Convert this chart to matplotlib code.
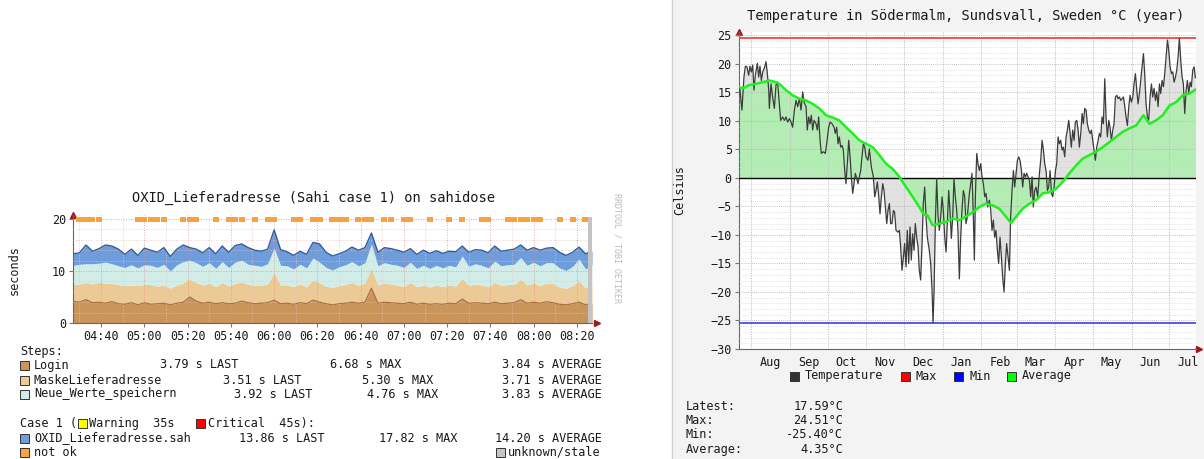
import numpy as np
import matplotlib
matplotlib.use("Agg")
import matplotlib.pyplot as plt
from matplotlib.patches import Rectangle
from matplotlib.lines import Line2D

W, H = 1204, 459
plt.rcParams['font.family'] = ['DejaVu Sans Mono', 'DejaVu Sans']

# ------------------------------------------------------------------ left chart data
# sample times: minutes after 04:00, one sample every 3 minutes (04:27 .. 08:27)
time_min = list(range(27, 268, 3))
login = [4.2, 4.0, 4.5, 3.9, 4.0, 3.8, 4.1, 3.7, 3.6, 3.9,
         3.5, 3.9, 3.6, 3.7, 3.8, 3.5, 3.8, 4.0, 5.0, 4.2,
         3.8, 4.0, 3.7, 3.9, 3.7, 3.8, 4.2, 3.9, 3.7, 3.8,
         3.9, 4.4, 3.7, 3.8, 3.6, 3.9, 3.7, 4.4, 4.0, 3.7,
         3.5, 3.7, 3.8, 4.0, 3.8, 4.0, 6.7, 3.8, 4.0, 3.9,
         3.8, 3.7, 4.0, 3.6, 3.8, 3.6, 3.7, 3.6, 3.8, 3.7,
         4.6, 3.8, 3.9, 3.8, 3.7, 4.0, 3.7, 3.8, 3.9, 4.5,
         3.8, 4.0, 3.8, 4.1, 3.9, 3.6, 3.5, 3.7, 4.0, 3.5, 3.79]
maske = [3.2, 3.5, 3.3, 3.6, 3.8, 3.9, 3.5, 3.7, 3.6, 3.4,
         3.7, 3.5, 3.8, 3.4, 3.5, 3.2, 3.5, 3.7, 3.4, 3.6,
         3.5, 3.7, 3.3, 3.9, 3.4, 3.8, 3.7, 3.5, 3.6, 3.4,
         3.6, 5.3, 3.6, 3.5, 3.4, 3.6, 3.3, 3.9, 3.7, 3.4,
         3.3, 3.5, 3.6, 3.8, 3.4, 3.7, 3.9, 3.5, 3.7, 3.6,
         3.5, 3.3, 3.8, 3.4, 3.5, 3.3, 3.6, 3.4, 3.5, 3.4,
         4.0, 3.4, 3.6, 3.5, 3.3, 3.8, 3.5, 3.6, 3.5, 3.9,
         3.5, 3.7, 3.4, 3.6, 3.7, 3.3, 3.2, 3.5, 4.1, 3.3, 3.51]
neue = [3.7, 3.8, 3.6, 3.9, 3.7, 4.0, 3.8, 3.6, 3.5, 3.9,
        3.4, 3.8, 3.7, 3.6, 4.0, 3.3, 3.9, 4.1, 3.7, 3.8,
        3.6, 3.9, 3.5, 4.0, 3.6, 4.1, 4.2, 3.9, 3.8, 3.7,
        3.9, 4.7, 3.8, 3.7, 3.4, 3.8, 3.6, 4.2, 4.0, 3.6,
        3.4, 3.6, 3.8, 4.0, 3.8, 3.9, 4.6, 3.7, 3.9, 3.8,
        3.8, 3.7, 3.9, 3.5, 3.8, 3.6, 3.8, 3.6, 3.8, 3.7,
        4.3, 3.7, 3.9, 3.8, 3.6, 4.1, 3.8, 3.8, 3.9, 4.2,
        3.8, 4.0, 3.8, 3.9, 4.0, 3.7, 3.4, 3.7, 4.2, 3.6, 3.92]
sah_total = [13.3, 13.5, 15.0, 13.8, 14.3, 15.0, 14.8, 14.2, 13.2, 14.2,
             13.0, 14.4, 14.0, 13.6, 14.5, 12.8, 14.2, 15.0, 14.5, 14.2,
             13.5, 14.5, 13.3, 14.8, 13.6, 14.9, 15.2, 14.5, 14.0, 13.8,
             14.2, 17.9, 14.1, 13.7, 13.0, 13.8, 13.2, 15.5, 15.2, 13.6,
             12.9, 13.3, 13.8, 14.6, 14.0, 14.5, 17.3, 13.6, 14.5, 14.3,
             14.0, 13.6, 14.3, 13.2, 14.0, 13.4, 13.9, 13.4, 13.8, 13.7,
             14.8, 13.6, 14.1, 14.0, 13.5, 14.8, 13.8, 14.0, 14.2, 15.0,
             14.0, 14.5, 14.0, 14.4, 14.5, 13.6, 13.0, 13.6, 14.6, 13.3, 13.86]
not_ok = [0, 1, 1, 1, 1, 0, 0, 0, 0, 0,
          1, 1, 1, 1, 1, 0, 0, 1, 1, 1,
          0, 0, 1, 0, 1, 1, 1, 0, 1, 0,
          1, 1, 0, 0, 1, 1, 0, 1, 1, 0,
          1, 1, 1, 0, 1, 1, 1, 0, 1, 1,
          0, 1, 1, 0, 0, 1, 0, 0, 1, 0,
          1, 0, 0, 1, 1, 0, 0, 1, 1, 1,
          1, 1, 1, 0, 0, 1, 0, 1, 0, 1, 0]
stale_idx = [80]
xtick_min = [40, 60, 80, 100, 120, 140, 160, 180, 200, 220, 240, 260]
xtick_labels = ["04:40", "05:00", "05:20", "05:40", "06:00", "06:20",
                "06:40", "07:00", "07:20", "07:40", "08:00", "08:20"]
step_names = ["Login", "MaskeLieferadresse", "Neue_Werte_speichern"]
step_last = [3.79, 3.51, 3.92]
step_max = [6.68, 5.30, 4.76]
step_avg = [3.84, 3.71, 3.83]
sah_name = "OXID_Lieferadresse.sah"
sah_last, sah_max, sah_avg = 13.86, 17.82, 14.20
warning_s, critical_s = 35, 45

# ------------------------------------------------------------------ right chart data
# days since 22 July
temp_day = [
    0.0, 1.0, 2.6, 4.2, 5.3, 6.6, 8.0, 9.0, 10.1, 11.2,
    12.2, 13.3, 14.9, 16.0, 17.0, 18.1, 19.2, 20.7, 21.8, 22.9,
    24.0, 24.5, 25.8, 27.1, 28.5, 29.8, 31.1, 32.5, 33.5, 35.1,
    36.5, 37.8, 39.1, 40.5, 41.8, 43.1, 44.5, 45.8, 47.1, 48.5,
    49.8, 51.1, 52.2, 53.8, 54.8, 55.9, 57.0, 58.0, 59.1, 60.2,
    61.8, 62.8, 63.9, 65.0, 66.0, 67.6, 69.2, 70.3, 71.9, 73.0,
    74.6, 76.2, 77.2, 78.3, 79.4, 80.4, 81.5, 82.6, 83.6, 84.7,
    85.7, 86.8, 87.9, 89.0, 90.0, 91.1, 92.1, 93.2, 94.3, 95.3,
    96.4, 97.5, 98.5, 99.6, 100.7, 101.7, 103.3, 104.4, 106.0, 107.6,
    108.7, 109.7, 110.8, 111.9, 112.9, 114.0, 115.1, 116.1, 117.2, 118.3,
    119.3, 120.4, 121.4,
    122.5, 123.6, 124.6, 125.7, 127.3, 128.4, 129.4, 130.5, 131.6, 132.6,
    133.7, 134.7, 135.8, 136.9, 137.9, 139.0, 140.1, 141.1, 142.2, 143.3,
    144.3, 145.4, 146.5, 147.5, 148.6, 149.7, 150.7, 152.3, 153.4, 154.5,
    155.3, 156.1, 157.1, 158.2, 159.3, 160.3, 161.4, 162.5, 163.5, 164.6,
    165.7, 166.7, 167.8, 168.8, 169.9, 171.0, 172.0, 173.1, 174.2, 175.2,
    176.3, 177.4, 178.4, 179.5, 180.6, 181.6, 182.7, 184.3, 185.4, 186.4,
    187.5, 188.3, 189.1, 190.2, 191.2, 192.3, 193.4, 194.4, 195.5, 196.6,
    197.6, 198.9, 200.3, 201.4, 202.4, 203.5, 204.5, 205.6, 206.7, 207.7,
    208.8, 209.9, 210.9, 212.0, 213.1, 214.1, 215.2, 216.3, 217.3, 218.4,
    219.5, 220.5, 221.6, 222.7, 223.7, 224.8, 225.9, 226.9, 228.0, 229.1,
    230.1, 231.2, 232.3, 233.3, 234.4, 235.4, 236.5, 237.6,
    238.9, 240.3, 241.3, 242.4, 243.5, 244.5, 245.6, 246.7, 247.7, 248.8,
    249.9, 250.9, 252.0, 253.1, 254.1, 255.2, 256.2, 257.3, 258.4, 259.4,
    260.5, 261.6, 262.6, 263.7, 264.8, 265.8, 266.9, 268.0, 269.0, 270.1,
    271.2, 272.2, 273.3, 274.4, 275.4, 276.5, 277.6, 278.6, 279.7, 280.8,
    281.8, 282.9, 283.9, 285.0, 286.1, 287.2, 288.2, 289.3, 290.3, 291.4,
    292.5, 293.5, 294.6, 295.7, 296.7, 297.8, 298.9, 299.9, 301.0, 302.1,
    303.1, 304.2, 305.3, 306.3, 307.4, 308.5, 309.5, 310.6, 311.7, 312.7,
    313.8, 314.9, 315.9, 317.0, 318.1, 319.1, 320.2, 321.2, 322.3, 323.4,
    324.4, 325.5, 326.6, 327.6, 328.7, 329.8, 330.8, 331.9, 333.0, 334.0,
    335.1, 336.2, 337.2, 338.3, 339.4, 340.4, 341.5, 342.6, 343.6, 344.7,
    345.8, 346.8, 347.9, 349.0, 350.0, 351.1, 352.1, 353.2, 354.3, 355.3,
    356.4, 357.5, 358.5, 359.6, 360.7, 361.7, 362.8, 363.9, 364.9]
temp_val = [
    16.0, 15.4, 11.9, 17.7, 19.6, 19.5, 18.0, 19.6, 18.6, 19.8,
    15.4, 18.0, 20.1, 17.7, 19.6, 17.1, 18.6, 19.4, 20.4, 18.3,
    15.4, 12.2, 16.5, 14.2, 12.2, 16.3, 16.8, 13.0, 10.1, 10.7,
    10.1, 10.7, 9.8, 10.4, 9.8, 8.9, 11.9, 13.6, 12.5, 13.9,
    11.9, 15.1, 13.3, 12.5, 8.4, 10.7, 9.5, 11.0, 8.4, 10.1,
    9.5, 8.4, 10.7, 6.6, 4.3, 4.6, 4.3, 6.0, 8.9, 9.8,
    9.5, 8.9, 7.8, 8.9, 6.0, 7.2, 5.4, 5.7, 4.9, 1.3,
    -1.0, 2.5, 6.6, 3.7, 0.2, -2.7, -1.0, 0.8, -0.1, -1.0,
    0.2, 1.3, 3.7, 6.0, 5.4, 3.7, 3.1, 5.1, 1.9, 0.2,
    -3.3, -2.2, -0.7, -3.3, -6.3, -3.3, -1.0, -2.2, -5.1, -8.0,
    -5.7, -4.5, -8.0,
    -8.0, -5.7, -6.0, -9.2, -9.5, -9.2, -12.1, -16.2, -13.9, -11.5,
    -15.6, -9.2, -15.0, -8.6, -14.4, -9.8, -12.7, -8.0, -10.4, -12.1,
    -16.2, -17.9, -11.5, -4.5, -1.6, -6.8, -10.4, -12.7, -15.0, -19.7,
    -25.4, -19.7, -8.0, -0.1, -6.8, -9.2, -6.8, -3.3, -5.7, -10.4,
    -13.0, -8.0, -2.2, -5.7, -10.6, -6.8, -0.1, -3.3, -5.7, -9.2,
    -17.7, -10.4, -5.7, -2.2, -3.3, -8.0, -6.8, -2.7, -1.0, 0.8,
    -6.8, -14.4, -3.3, 4.3, 2.5, 1.3, 2.5, 0.2, -1.0, -3.3,
    -2.7, -5.1, -3.9, -5.7, -9.2, -7.4, -10.4, -9.2, -12.7, -15.0,
    -10.4, -13.9, -17.4, -20.0, -15.0, -11.5, -13.9, -16.2, -6.8, -2.2,
    1.3, -1.6, 0.8, 3.1, 3.7, 3.1, 1.3, -1.6, 0.8, 0.2,
    0.8, 0.2, -0.4, -3.3, 0.2, -5.1, -2.2, -1.6,
    -3.3, 0.8, 3.1, 6.6, 4.9, 2.5, 1.3, -2.2, -1.6, 1.3,
    -2.7, -3.3, -1.6, 1.3, 2.5, 7.2, 6.0, 6.6, 4.9, 5.4,
    3.7, 7.2, 8.4, 10.1, 7.8, 5.4, 8.4, 6.6, 9.8, 10.1,
    8.4, 5.4, 7.8, 11.3, 9.5, 12.2, 11.9, 9.5, 8.4, 7.8,
    8.4, 6.6, 4.9, 3.1, 5.4, 6.6, 7.8, 7.2, 10.7, 9.5,
    17.4, 10.7, 7.2, 10.1, 8.9, 6.6, 8.4, 9.5, 14.2, 14.5,
    13.9, 14.2, 13.6, 13.9, 14.2, 12.5, 10.7, 9.2, 12.5, 14.5,
    13.3, 14.2, 16.5, 18.3, 15.4, 13.0, 14.8, 17.1, 19.5, 21.8,
    18.3, 13.0, 10.7, 10.1, 14.2, 16.5, 14.2, 15.7, 13.6, 15.1,
    12.5, 16.5, 14.8, 17.1, 16.0, 18.3, 21.2, 24.2, 22.4, 19.5,
    18.3, 18.6, 16.8, 17.7, 18.9, 21.2, 24.5, 20.6, 17.7, 16.5,
    11.3, 15.4, 17.1, 14.8, 16.8, 16.0, 18.9, 19.5, 17.59]
avg_day = [0, 3.2, 8.5, 13.8, 19.2, 24.5, 29.8, 32.5, 37.8, 43.1,
           48.5, 53.8, 59.1, 64.4, 69.8, 75.1, 80.4, 85.7, 91.1, 96.4,
           101.7, 107.1, 112.4, 117.7, 123.0, 128.4, 133.7, 139.0, 144.3, 147.5,
           151.0, 155.0, 160.3, 165.7, 171.0, 176.3, 181.6, 187.0, 192.3, 197.6,
           202.9, 208.3, 213.6, 217.6, 221.6, 226.9, 232.3, 237.6, 242.9, 248.3,
           253.6, 258.9, 264.2, 269.6, 274.9, 280.2, 285.6, 290.9, 296.2, 301.5,
           306.9, 312.2, 317.5, 323.4, 328.2, 333.5, 338.8, 344.2, 349.5, 354.8,
           360.1, 365.0]
avg_val = [16.0, 15.7, 16.3, 16.5, 16.8, 17.1, 16.8, 16.5, 15.4, 14.5,
           13.9, 13.6, 13.0, 12.2, 11.0, 10.6, 10.1, 8.9, 7.8, 6.6,
           6.0, 5.4, 4.0, 2.5, 1.6, 0.2, -1.6, -3.3, -5.1, -6.3,
           -6.6, -8.3, -8.0, -7.7, -7.1, -7.4, -6.8, -6.0, -5.1, -4.5,
           -4.8, -5.4, -6.8, -7.9, -6.8, -5.4, -4.5, -3.9, -2.7, -2.5,
           -1.9, -0.7, 0.8, 2.2, 3.4, 4.0, 4.6, 5.4, 6.3, 7.2,
           8.1, 8.7, 9.2, 11.0, 9.5, 10.1, 11.0, 12.7, 13.3, 14.5,
           14.8, 15.5]
month_start_day = [10, 41, 71, 102, 132, 163, 194, 222, 253, 283, 314, 344]
month_labels = ["Aug", "Sep", "Oct", "Nov", "Dec", "Jan",
                "Feb", "Mar", "Apr", "May", "Jun", "Jul"]
temp_latest, temp_max, temp_min, temp_mean = 17.59, 24.51, -25.40, 4.35

# ------------------------------------------------------------------ colours
C_LOGIN, C_MASKE, C_NEUE, C_SAH = '#C9955B', '#EBCB93', '#D2ECE8', '#6F9CDB'
C_NOTOK, C_STALE = '#F9A03F', '#C4C4C4'
TXT = '#1a1a1a'
FS = 8.6

fig = plt.figure(figsize=(W / 100, H / 100), dpi=100)
fig.patch.set_facecolor('white')


def rect(x0, y0, x1, y1):
    return [x0 / W, 1 - y1 / H, (x1 - x0) / W, (y1 - y0) / H]


def ftext(px, py, s, **kw):
    kw.setdefault('fontsize', FS)
    kw.setdefault('va', 'center')
    kw.setdefault('color', TXT)
    fig.text(px / W, 1 - py / H, s, **kw)


def fbox(px, py, color):
    fig.patches.append(Rectangle((px / W, 1 - (py + 4.5) / H), 9 / W, 9 / H,
                                 transform=fig.transFigure, facecolor=color,
                                 edgecolor='#333333', lw=0.7))


# right panel background
fig.patches.append(Rectangle((672 / W, 0), (W - 672) / W, 1, transform=fig.transFigure,
                             facecolor='#F3F3F3', edgecolor='none', zorder=-10))
fig.lines.append(Line2D([671.5 / W, 671.5 / W], [0, 1], transform=fig.transFigure,
                        color='#D0D0D0', lw=1))

# ------------------------------------------------------------------ left chart
ax1 = fig.add_axes(rect(73, 215, 592, 323))
t = np.array(time_min, float)
s1 = np.array(login)
s2 = s1 + np.array(maske)
s3 = s2 + np.array(neue)
tot = np.array(sah_total)
ax1.fill_between(t, 0, s1, color=C_LOGIN, lw=0, zorder=1)
ax1.fill_between(t, s1, s2, color=C_MASKE, lw=0, zorder=1)
ax1.fill_between(t, s2, s3, color=C_NEUE, lw=0, zorder=1)
ax1.fill_between(t, s3, tot, color=C_SAH, lw=0, zorder=1)
ax1.plot(t, s1, color='#A8733D', lw=0.9, zorder=3)
ax1.plot(t, tot, color='#2F5F9F', lw=1.0, zorder=3)
nok_t = [ti for ti, f in zip(time_min, not_ok) if f]
ax1.bar(nok_t, 1.0, width=2.8, bottom=19.4, color=C_NOTOK, lw=0, zorder=4)
ax1.bar([time_min[i] for i in stale_idx], 20.4, width=3.5, bottom=0,
        color=C_STALE, lw=0, zorder=4)
ax1.set_xlim(27, 267)
ax1.set_ylim(0, 20.77)
ax1.set_xticks(xtick_min, labels=xtick_labels)
ax1.set_xticks(np.arange(30, 267, 10), minor=True)
ax1.set_yticks([0, 10, 20])
ax1.set_yticks(np.arange(0, 21, 2), minor=True)
ax1.set_axisbelow(False)
ax1.grid(which='minor', color='#F2BDBD', lw=0.6, ls=(0, (1, 2)))
ax1.grid(which='major', color='#E08A8A', lw=0.6, ls=(0, (1, 2)))
ax1.tick_params(which='major', length=3, width=0.8, color='#777777',
                labelsize=8.5, pad=2, labelcolor=TXT)
ax1.tick_params(which='minor', length=0)
for s in ('top', 'right'):
    ax1.spines[s].set_visible(False)
for s in ('left', 'bottom'):
    ax1.spines[s].set_color('#666666')
    ax1.spines[s].set_linewidth(0.8)
ax1.plot([0], [1.0], marker='^', ms=4, color='#9B1B1B', transform=ax1.transAxes, clip_on=False)
ax1.plot([1.01], [0], marker='>', ms=4, color='#9B1B1B', transform=ax1.transAxes, clip_on=False)

ftext(313, 198, "OXID_Lieferadresse (Sahi case 1) on sahidose", ha='center', fontsize=9.9)
ftext(14, 270, "seconds", rotation=90, ha='center')
ftext(617, 248, "RRDTOOL / TOBI OETIKER", rotation=270, ha='center', fontsize=6, color='#BBBBBB')

# left legend
ftext(20, 351, "Steps:")
row_y = [365, 380, 394]
last_x = [160, 223, 234]
max_x = [330, 362, 367]
step_cols = [C_LOGIN, C_MASKE, C_NEUE]
for i, name in enumerate(step_names):
    y = row_y[i]
    fbox(20, y, step_cols[i])
    ftext(34, y, name)
    ftext(last_x[i], y, f"{step_last[i]:.2f} s LAST")
    ftext(max_x[i], y, f"{step_max[i]:.2f} s MAX")
    ftext(602, y, f"{step_avg[i]:.2f} s AVERAGE", ha='right')
ftext(20, 423, "Case 1 (")
fbox(78, 423, '#FFFF00')
ftext(89, 423, f"Warning  {warning_s}s")
fbox(196, 423, '#FF0000')
ftext(208, 423, f"Critical  {critical_s}s):")
fbox(20, 438, C_SAH)
ftext(34, 438, sah_name)
ftext(239, 438, f"{sah_last:.2f} s LAST")
ftext(379, 438, f"{sah_max:.2f} s MAX")
ftext(602, 438, f"{sah_avg:.2f} s AVERAGE", ha='right')
fbox(20, 452, C_NOTOK)
ftext(34, 452, "not ok")
fbox(496, 452, C_STALE)
ftext(508, 452, "unknown/stale")

# ------------------------------------------------------------------ right chart
ax2 = fig.add_axes(rect(738.7, 32, 1195.5, 349))
ax2.set_facecolor('white')
ax2.fill_between(temp_day, 0, temp_val, color='#E2E2E2', lw=0, zorder=1)
ax2.fill_between(avg_day, 0, avg_val, color='#B4EDB4', lw=0, zorder=1.1)
ax2.set_xlim(0, 365)
ax2.set_ylim(-30, 25.6)
ax2.set_yticks(range(-30, 26, 5))
ax2.set_yticks(range(-30, 26, 1), minor=True)
ax2.set_axisbelow(False)
ax2.grid(axis='y', which='minor', color='#D2D2D2', lw=0.5, ls=(0, (1, 1.5)))
ax2.grid(axis='y', which='major', color='#AFAFAF', lw=0.6, ls=(0, (1, 1.5)))
for d in month_start_day:
    ax2.axvline(d, color='#B8B8B8', lw=0.7, ls=(0, (1, 1.5)), zorder=2.5)
ax2.set_xticks([d + 15 for d in month_start_day], labels=month_labels)
ax2.axhline(0, color='black', lw=1.0, zorder=3)
ax2.axhline(temp_max, color='#F04848', lw=1.3, zorder=3)
ax2.axhline(temp_min, color='#4C4CF0', lw=1.3, zorder=3)
ax2.plot(temp_day, temp_val, color='#3C3C3C', lw=0.9, zorder=4)
ax2.plot(avg_day, avg_val, color='#22EE22', lw=1.8, zorder=5)
ax2.tick_params(axis='x', which='both', length=0, labelsize=8.5, pad=5, labelcolor=TXT)
ax2.tick_params(axis='y', which='major', length=3, width=0.8, color='#777777',
                labelsize=8.5, pad=2, labelcolor=TXT)
ax2.tick_params(axis='y', which='minor', length=0)
for s in ('top', 'right'):
    ax2.spines[s].set_visible(False)
for s in ('left', 'bottom'):
    ax2.spines[s].set_color('#666666')
    ax2.spines[s].set_linewidth(0.8)
ax2.plot([0], [1.0], marker='^', ms=4, color='#9B1B1B', transform=ax2.transAxes, clip_on=False)
ax2.plot([1.008], [0], marker='>', ms=4, color='#9B1B1B', transform=ax2.transAxes, clip_on=False)

ftext(966, 16, "Temperature in Södermalm, Sundsvall, Sweden °C (year)", ha='center', fontsize=9.9)
ftext(680, 190, "Celsius", rotation=90, ha='center')

# right legend
leg = [("Temperature", '#333333', 790), ("Max", '#FF0000', 901),
       ("Min", '#0000FF', 954), ("Average", '#00FF00', 1007)]
for name, col, bx in leg:
    fbox(bx, 376, col)
    ftext(bx + 15, 376, name)
stat_names = ["Latest:", "Max:", "Min:", "Average:"]
stat_vals = [temp_latest, temp_max, temp_min, temp_mean]
stat_y = [406, 420.5, 435, 449.5]
for n, v, y in zip(stat_names, stat_vals, stat_y):
    ftext(686, y, n)
    ftext(843, y, f"{v:.2f}°C", ha='right')

fig.savefig("out.png", dpi=100, facecolor=fig.get_facecolor())
